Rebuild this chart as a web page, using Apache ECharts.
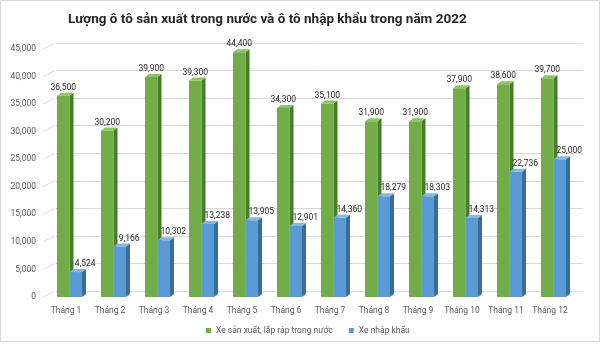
<!DOCTYPE html>
<html><head><meta charset="utf-8">
<script src="https://cdn.jsdelivr.net/npm/echarts@6/dist/echarts.min.js"></script>
<style>html,body{margin:0;padding:0;background:#fff}#c{width:600px;height:344px}</style>
</head><body><div id="c"></div>
<script>
var categories = ['Tháng 1','Tháng 2','Tháng 3','Tháng 4','Tháng 5','Tháng 6','Tháng 7','Tháng 8','Tháng 9','Tháng 10','Tháng 11','Tháng 12'];
var domestic = [36500, 30200, 39900, 39300, 44400, 34300, 35100, 31900, 31900, 37900, 38600, 39700];
var imported = [4524, 9166, 10302, 13238, 13905, 12901, 14360, 18279, 18303, 14313, 22736, 25000];
var yTicks = [0, 5000, 10000, 15000, 20000, 25000, 30000, 35000, 40000, 45000];
var seriesNames = ['Xe sản xuất, lắp ráp trong nước', 'Xe nhập khẩu'];
var titleText = 'Lượng ô tô sản xuất trong nước và ô tô nhập khẩu trong năm 2022';

var FONT = 'Roboto';
function fmt(v){ return Number(v).toLocaleString('en-US'); }

var DX = 4, DY = -3;
function barRenderer(x0, x1, front, side, top, labelDx) {
  return function (params, api) {
    var i = api.value(0), v = api.value(1);
    var p = api.coord([i, v]);
    var b = api.coord([i, 0]);
    var cx = p[0], yt = p[1], yb = b[1];
    var l = cx + x0, r = cx + x1;
    return {
      type: 'group',
      children: [
        { type: 'polygon', shape: { points: [[r, yt], [r + DX, yt + DY], [r + DX, yb + DY], [r, yb]] }, style: { fill: side } },
        { type: 'rect', shape: { x: l, y: yt, width: r - l, height: yb - yt }, style: { fill: front } },
        { type: 'polygon', shape: { points: [[l, yt], [l + DX, yt + DY], [r + DX, yt + DY], [r, yt]] }, style: { fill: top } },
        { type: 'text', style: { text: fmt(v), x: (l + r) / 2 + labelDx, y: yt - 8, align: 'center', verticalAlign: 'middle', fill: '#262626', font: '8.5px ' + FONT } }
      ]
    };
  };
}

var chart = echarts.init(document.getElementById('c'), null, { renderer: 'canvas' });
chart.setOption({
  backgroundColor: '#fff',
  animation: false,
  title: {
    text: titleText, left: 63, top: 8,
    textStyle: { fontFamily: FONT, fontWeight: 'bold', fontSize: 13.5, color: '#262626' }
  },
  legend: {
    data: seriesNames, left: 201, top: 321, itemWidth: 5, itemHeight: 5, itemGap: 16, itemTextGap: 3,
    icon: 'rect', textStyle: { fontFamily: FONT, fontSize: 8.5, color: '#595959' }
  },
  graphic: [{ type: 'rect', shape: { x: 0.5, y: 0.5, width: 599, height: 341 }, style: { fill: null, stroke: '#D9D9D9', lineWidth: 1 }, silent: true, z: -1 }],
  grid: [
    { left: 44, right: 28, top: 49, bottom: 47 },
    { left: 56, right: 17, top: 43, bottom: 53 }
  ],
  xAxis: [
    { type: 'category', data: categories, gridIndex: 0, axisLine: { show: false }, axisTick: { show: false },
      axisLabel: { fontFamily: FONT, fontSize: 8.5, color: '#595959', margin: 9, interval: 0 } },
    { type: 'category', data: categories, gridIndex: 1, show: false }
  ],
  yAxis: [
    { type: 'value', gridIndex: 0, min: 0, max: 45000, interval: 5000, splitLine: { show: false },
      axisLine: { show: false }, axisTick: { show: false },
      axisLabel: { fontFamily: FONT, fontSize: 8.5, color: '#595959', margin: 8, formatter: fmt } },
    { type: 'value', gridIndex: 1, min: 0, max: 45000, interval: 5000,
      axisLabel: { show: false }, axisLine: { show: false }, axisTick: { show: false },
      splitLine: { show: true, lineStyle: { color: '#D9D9D9', width: 1 } } }
  ],
  series: [
    { type: 'custom', name: 'walls', xAxisIndex: 0, yAxisIndex: 0, silent: true, z: 1,
      data: yTicks.map(function (t) { return [0, t]; }),
      renderItem: function (params, api) {
        var y = api.coord([0, api.value(1)])[1];
        var x = params.coordSys.x - 1;
        return { type: 'line', shape: { x1: x, y1: y, x2: x + 12, y2: y - 6 }, style: { stroke: '#D9D9D9', lineWidth: 1 } };
      } },
    { type: 'custom', name: seriesNames[0], xAxisIndex: 0, yAxisIndex: 0, z: 2,
      itemStyle: { color: '#70AD47' },
      data: domestic.map(function (v, i) { return [i, v]; }),
      renderItem: barRenderer(-9, 3.5, '#70AD47', '#4B7A2C', '#8DC566', 0) },
    { type: 'custom', name: seriesNames[1], xAxisIndex: 0, yAxisIndex: 0, z: 3,
      itemStyle: { color: '#5B9BD5' },
      data: imported.map(function (v, i) { return [i, v]; }),
      renderItem: barRenderer(3.5, 16, '#5B9BD5', '#3C6C9A', '#86B6E2', 9.5) }
  ]
});
</script></body></html>
